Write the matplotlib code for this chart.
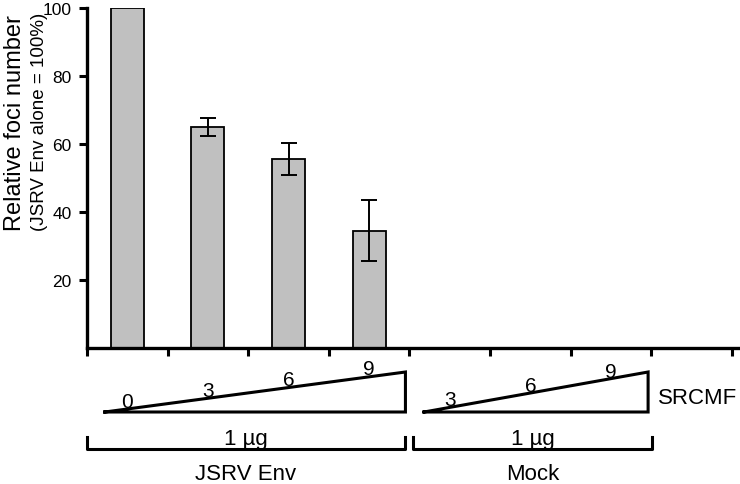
import numpy as np
import matplotlib
matplotlib.use("Agg")
import matplotlib.pyplot as plt

plt.rcParams['font.family'] = ['Liberation Sans', 'DejaVu Sans']

# Datos
pos_barras = [0.5, 1.5, 2.5, 3.5]
foci = [100, 65, 55.5, 34.5]
error = [0, 2.7, 4.7, 9.0]
srcmf_env = ["0", "3", "6", "9"]
srcmf_mock = ["3", "6", "9"]
grupos = ["JSRV Env", "Mock"]
yticks = [20, 40, 60, 80, 100]

fig = plt.figure(figsize=(7.4, 4.85), dpi=100)
ax = fig.add_axes([87 / 740, 136 / 485, 653 / 740, 340 / 485])

ax.bar(pos_barras, foci, width=0.41, color="#c0c0c0", edgecolor="black",
       linewidth=1.3, zorder=2)
ax.errorbar(pos_barras[1:], foci[1:], yerr=error[1:], fmt="none",
            ecolor="black", elinewidth=1.4, capsize=6, capthick=1.4, zorder=3)

ax.set_xlim(0, 8.1)
ax.set_ylim(0, 100)
ax.set_xticks(np.arange(0, 9))
ax.set_xticklabels([])
ax.set_yticks(yticks)
ax.tick_params(axis="both", direction="out", length=6, width=2.2,
               labelsize=12.5, pad=5)
for s in ["top", "right"]:
    ax.spines[s].set_visible(False)
for s in ["left", "bottom"]:
    ax.spines[s].set_linewidth(2.4)


def yp(py):
    # pixel de la figura (desde arriba) -> fraccion del eje y
    return (349 - py) / 340


# Etiqueta del eje y (dos lineas, la primera mas grande)
ax.text(-0.110, yp(231), "Relative foci number", transform=ax.transAxes,
        rotation=90, ha="center", va="bottom", fontsize=17)
ax.text(-0.073, yp(231), "(JSRV Env alone = 100%)", transform=ax.transAxes,
        rotation=90, ha="center", va="bottom", fontsize=13.5)

# Anotaciones bajo el eje: x en datos, y en pixeles de la figura
tr = ax.get_xaxis_transform()

lw = 2.2
# triangulos SRCMF
for x0, x1 in [(0.22, 3.95), (4.18, 6.96)]:
    ax.plot([x0, x1, x1, x0], [yp(413), yp(413), yp(373), yp(413)],
            color="black", lw=lw, transform=tr, clip_on=False,
            solid_joinstyle="miter")

for i, lab in enumerate(srcmf_env):
    ax.text(pos_barras[i], yp(402 - 10.8 * i), lab, transform=tr,
            ha="center", va="center", fontsize=15)
for i, lab in enumerate(srcmf_mock):
    ax.text(4.5 + i, yp(400 - 14 * i), lab, transform=tr,
            ha="center", va="center", fontsize=15)
ax.text(7.08, yp(398), "SRCMF", transform=tr, ha="left", va="center",
        fontsize=16)

# corchetes
for (x0, x1), g in zip([(0.0, 3.94), (4.04, 7.01)], grupos):
    ax.plot([x0, x0, x1, x1], [yp(438), yp(450), yp(450), yp(438)],
            color="black", lw=lw, transform=tr, clip_on=False)
    xc = (x0 + x1) / 2
    ax.text(xc, yp(439), "1 µg", transform=tr, ha="center", va="center",
            fontsize=16)
    ax.text(xc, yp(475), g, transform=tr, ha="center", va="center",
            fontsize=16)

plt.savefig("out.png", dpi=100)
plt.close()
